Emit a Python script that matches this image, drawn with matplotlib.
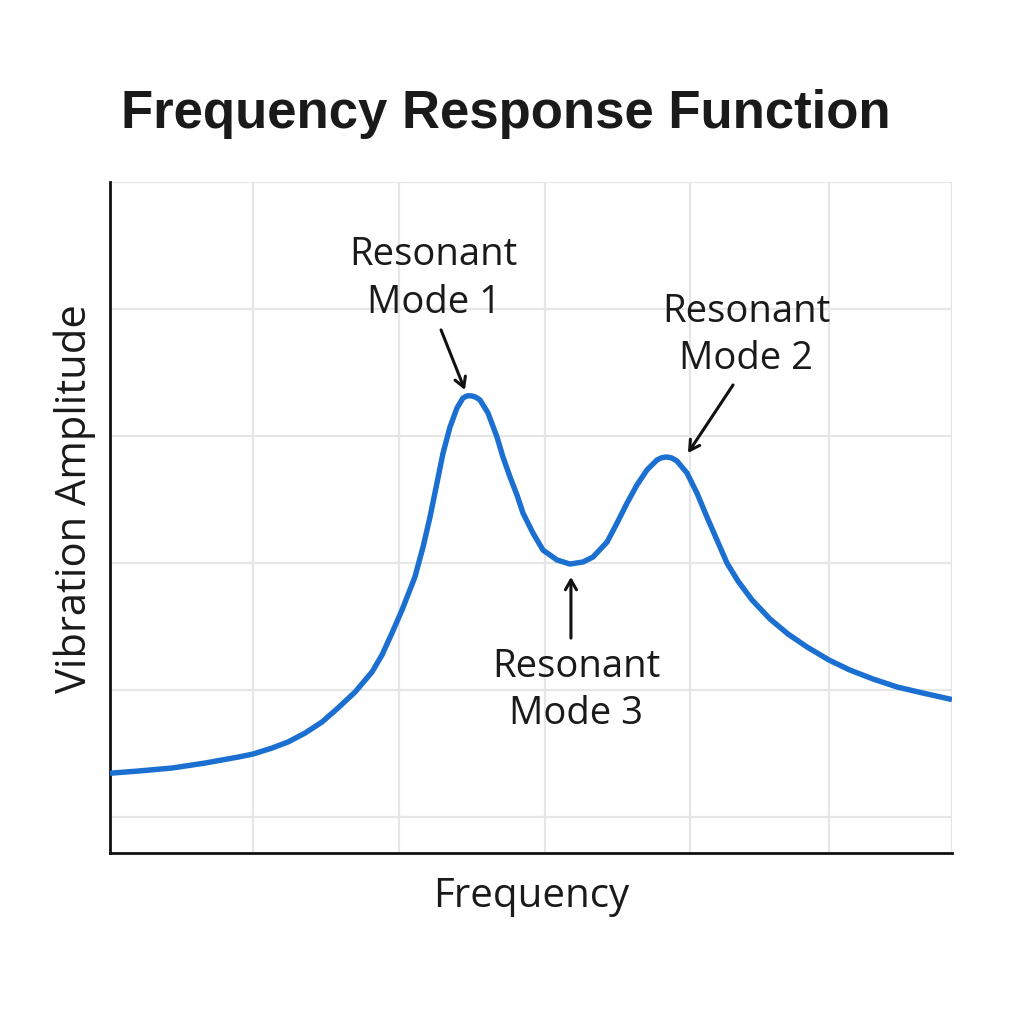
import matplotlib
matplotlib.use("Agg")
import matplotlib.pyplot as plt

# Data (frequency and amplitude in arbitrary units)
freq = [0.000, 0.193, 0.428, 0.655, 0.883, 0.986, 1.117, 1.228, 1.345, 1.462,
        1.572, 1.690, 1.807, 1.876, 1.945, 2.014, 2.103, 2.159, 2.207, 2.255,
        2.297, 2.345, 2.393, 2.434, 2.466, 2.497, 2.524, 2.552, 2.607, 2.669,
        2.710, 2.759, 2.807, 2.848, 2.917, 2.986, 3.083, 3.172, 3.262, 3.331,
        3.428, 3.497, 3.566, 3.634, 3.703, 3.772, 3.807, 3.841, 3.876, 3.910,
        3.979, 4.048, 4.117, 4.186, 4.255, 4.331, 4.428, 4.552, 4.676, 4.807,
        4.959, 5.103, 5.262, 5.428, 5.607, 5.807]
amplitude = [0.345, 0.362, 0.386, 0.425, 0.472, 0.496, 0.543, 0.591, 0.661, 0.748,
             0.858, 0.984, 1.142, 1.276, 1.449, 1.630, 1.890, 2.126, 2.362, 2.630,
             2.866, 3.071, 3.220, 3.299, 3.317, 3.315, 3.305, 3.283, 3.181, 2.992,
             2.835, 2.677, 2.535, 2.394, 2.236, 2.102, 2.024, 1.992, 2.008, 2.047,
             2.165, 2.315, 2.472, 2.614, 2.732, 2.811, 2.830, 2.835, 2.826, 2.803,
             2.709, 2.551, 2.362, 2.181, 2.000, 1.858, 1.709, 1.559, 1.441, 1.339,
             1.236, 1.157, 1.087, 1.024, 0.976, 0.925]

x_grid = [0.986, 1.993, 3.0, 4.0, 4.959, 5.807]
y_grid = [0, 1, 2, 3, 4, 5]

labels = ["Resonant\nMode 1", "Resonant\nMode 2", "Resonant\nMode 3"]
label_pos = [(2.234, 4.235), (4.386, 3.794), (3.214, 0.999)]
arrow_tail = [(2.283, 3.835), (4.297, 3.402), (3.179, 1.409)]
arrow_tip = [(2.448, 3.362), (3.986, 2.866), (3.179, 1.890)]

fig = plt.figure(figsize=(10.24, 10.24), dpi=100)
ax = fig.add_axes([0.1074, 0.167, 0.8223, 0.6553])

font = "Open Sans"

ax.plot(freq, amplitude, color="#1a6fd0", lw=3.9, solid_capstyle="butt",
        solid_joinstyle="round", zorder=3)

ax.set_xlim(0, 5.807)
ax.set_ylim(-0.283, 5.0)
ax.set_xticks(x_grid)
ax.set_yticks(y_grid)
ax.tick_params(length=0, labelbottom=False, labelleft=False)
ax.grid(True, color="#e6e6e6", lw=1.6, zorder=0)
for s in ["top", "right"]:
    ax.spines[s].set_visible(False)
for s in ["left", "bottom"]:
    ax.spines[s].set_color("#111111")
    ax.spines[s].set_linewidth(2.0)

ax.set_xlabel("Frequency", fontsize=29, family=font, labelpad=17, color="#1a1a1a")
ax.set_ylabel("Vibration Amplitude", fontsize=30, family=font, color="#1a1a1a")
ax.yaxis.set_label_coords(-0.017, 0.528)

for lab, (tx, ty) in zip(labels, label_pos):
    ax.text(tx, ty, lab, ha="center", va="center", fontsize=27.5, family=font,
            color="#1a1a1a", linespacing=1.32, multialignment="center")

for (x0, y0), (x1, y1) in zip(arrow_tail, arrow_tip):
    ax.annotate("", xy=(x1, y1), xytext=(x0, y0),
                arrowprops=dict(arrowstyle="->,head_length=0.7,head_width=0.4",
                                color="#111111", lw=2.2, shrinkA=0, shrinkB=0))

fig.text(0.4937, 0.889, "Frequency Response Function", ha="center", va="center",
         fontsize=38, fontweight="bold", family="Liberation Sans", color="#1a1a1a")

fig.savefig("out.png", dpi=100, facecolor="white")
